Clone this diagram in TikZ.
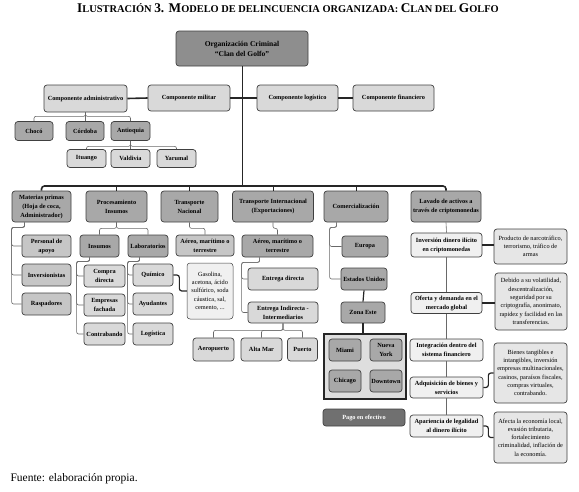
\documentclass[tikz,border=0pt]{standalone}
\usepackage{fontspec}
\setmainfont{Liberation Serif}
\usepackage{tikz}
\usetikzlibrary{positioning}
\definecolor{cgline}{RGB}{64,64,64}
\definecolor{cgwire}{RGB}{38,38,38}
\definecolor{cgthin}{RGB}{105,105,105}
\definecolor{cgtop}{RGB}{142,142,142}
\definecolor{cgmid}{RGB}{168,168,168}
\definecolor{cgsoft}{RGB}{198,198,198}
\definecolor{cglight}{RGB}{217,217,217}
\definecolor{cgpale}{RGB}{240,240,240}
\definecolor{cgnote}{RGB}{230,230,230}
\definecolor{cgframe}{RGB}{222,222,222}
\definecolor{cgcash}{RGB}{112,112,112}
\newcommand{\ttlcap}[1]{{\fontsize{13.3}{15}\selectfont #1}}
\tikzset{boxsize/.style 2 args={minimum width=#1pt, minimum height=#2pt}}

\begin{document}
\begin{tikzpicture}[
  x=1pt, y=-1pt,
  box/.style={draw=cgline, line width=0.7pt, rounded corners=3pt, align=center,
              inner sep=1pt, font=\fontsize{6.3}{9}\selectfont\bfseries},
  root/.style={box, fill=cgtop, font=\fontsize{7.5}{10}\selectfont\bfseries},
  comp/.style={box, fill=cglight},
  lvl/.style={box, fill=cgmid},
  soft/.style={box, fill=cgsoft},
  leaf/.style={box, fill=cglight},
  pale/.style={box, fill=cgpale},
  note/.style={box, fill=cgnote, font=\fontsize{6.3}{8.3}\selectfont},
  frame/.style={draw=cgwire, line width=1.3pt, fill=cgframe},
  cash/.style={box, fill=cgcash, text=white},
  stem/.style={draw=cgwire, line width=1pt},
  bus/.style={draw=cgwire, line width=1.6pt, rounded corners=3pt},
  twig/.style={draw=cgthin, line width=0.6pt, rounded corners=2pt},
  link/.style={draw=cgwire, line width=1.2pt, rounded corners=2.5pt}
]
\useasboundingbox (0,0) rectangle (579,491);

\node[anchor=base, font=\fontsize{10.4}{12}\selectfont\bfseries] (ttl) at (288,12.5)
  {\ttlcap{I}LUSTRACIÓN \ttlcap{3. M}ODELO DE DELINCUENCIA ORGANIZADA: \ttlcap{C}LAN DEL \ttlcap{G}OLFO};

\node[root, boxsize={132}{35}] (org) at (242,48.5) {Organización Criminal\\“Clan del Golfo”};

\node[comp, boxsize={83}{27}] (adm) at (85.5,98.5) {Componente administrativo};
\node[comp, boxsize={82}{26}] (mil) at (189,98) {Componente militar};
\node[comp, boxsize={81}{26}] (log) at (297.5,98) {Componente logístico};
\node[comp, boxsize={81}{26}] (fin) at (393.5,98) {Componente financiero};

\node[lvl, boxsize={38}{19}] (choco) at (34,131) {Chocó};
\node[lvl, boxsize={38}{19}] (cord) at (85,131) {Córdoba};
\node[lvl, boxsize={39}{19}] (ant) at (130.5,131) {Antioquia};
\node[leaf, boxsize={39}{18}] (itu) at (86.5,158.5) {Ituango};
\node[leaf, boxsize={39}{18}] (val) at (130.5,158.5) {Valdivia};
\node[leaf, boxsize={39}{18}] (yar) at (176.5,158.5) {Yarumal};

\coordinate (hub) at (242,186);
\node[lvl, boxsize={59}{31}] (mat) at (41.5,206.5) {Materias primas\\(Hoja de coca,\\Administrador)};
\node[lvl, boxsize={61}{31}] (proc) at (116.5,206.5) {Procesamiento\\Insumos};
\node[lvl, boxsize={57}{31}] (tn) at (189.5,206.5) {Transporte\\Nacional};
\node[lvl, boxsize={81}{31}] (ti) at (273,206.5) {Transporte Internacional\\(Exportaciones)};
\node[lvl, boxsize={64}{31}] (com) at (356,206.5) {Comercialización};
\node[lvl, boxsize={70}{31}] (lav) at (446,206.5) {Lavado de activos a\\través de criptomonedas};

\node[soft, boxsize={49}{22}] (per) at (46.5,246) {Personal de\\apoyo};
\node[soft, boxsize={49}{22}] (inv) at (46.5,275) {Inversionistas};
\node[soft, boxsize={49}{22}] (rasp) at (46.5,304) {Raspadores};

\node[lvl, boxsize={39}{22}] (ins) at (99.5,246) {Insumos};
\node[lvl, boxsize={40}{22}] (lab) at (148,246) {Laboratorios};
\node[leaf, boxsize={41}{22}] (compra) at (104.5,276) {Compra\\directa};
\node[leaf, boxsize={41}{22}] (emp) at (104.5,305) {Empresas\\fachada};
\node[leaf, boxsize={41}{22}] (contra) at (104.5,334) {Contrabando};
\node[leaf, boxsize={40}{22}] (quim) at (153,275) {Químico};
\node[leaf, boxsize={40}{22}] (ayu) at (153,304) {Ayudantes};
\node[leaf, boxsize={40}{22}] (logi) at (153,334) {Logística};
\node[note, boxsize={46}{56}, fill=cgpale, line width=0.5pt] (gas) at (210,291)
  {Gasolina,\\acetona, ácido\\sulfúrico, soda\\cáustica, sal,\\cemento, ...};

\node[soft, boxsize={58}{21}] (tnaer) at (205,245.5) {Aéreo, marítimo o\\terrestre};
\node[lvl, boxsize={71}{22}] (tiaer) at (277.5,246) {Aéreo, marítimo o\\terrestre};
\node[leaf, boxsize={70}{22}] (edir) at (283,279) {Entrega directa};
\node[leaf, boxsize={70}{21}] (eind) at (283,312.5) {Entrega Indirecta -\\Intermediarios};
\node[leaf, boxsize={41}{23}] (aero) at (213.5,349.5) {Aeropuerto};
\node[leaf, boxsize={41}{23}] (alta) at (261.5,349.5) {Alta Mar};
\node[leaf, boxsize={30}{23}] (pto) at (302.5,349.5) {Puerto};

\node[lvl, boxsize={46}{21}] (eur) at (365,246.5) {Europa};
\node[lvl, boxsize={46}{22}] (eeuu) at (364,279) {Estados Unidos};
\node[lvl, boxsize={44}{21}] (zona) at (363,312.5) {Zona Este};
\node[frame, minimum width=82pt, minimum height=65pt] (cont) at (365,366.5) {};
\node[lvl, boxsize={32}{22}] (mia) at (345,350) {Miami};
\node[lvl, boxsize={32}{22}] (ny) at (386,350) {Nueva\\York};
\node[lvl, boxsize={32}{22}] (chi) at (345,381) {Chicago};
\node[lvl, boxsize={32}{22}] (dt) at (386,381) {Downtown};
\node[cash, boxsize={82}{17}] (pago) at (364,417.5) {Pago en efectivo};

\node[pale, boxsize={71}{24}] (ilic) at (446.5,245) {Inversión dinero ilícito\\en criptomonedas};
\node[pale, boxsize={71}{21}] (ofe) at (446.5,303) {Oferta y demanda en el\\mercado global};
\node[pale, boxsize={73}{22}] (intg) at (446.5,350) {Integración dentro del\\sistema financiero};
\node[pale, boxsize={73}{21}] (adq) at (446.5,387.5) {Adquisición de bienes y\\servicios};
\node[pale, boxsize={73}{22}] (apar) at (446.5,426) {Apariencia de legalidad\\al dinero ilícito};

\node[note, boxsize={73}{35}] (prod) at (530.5,246.5) {Producto de narcotráfico,\\terrorismo, tráfico de\\armas};
\node[note, boxsize={72}{57}] (deb) at (531,301.5) {Debido a su volatilidad,\\descentralización,\\seguridad por su\\criptografía, anonimato,\\rapidez y facilidad en las\\transferencias.};
\node[note, boxsize={73}{60}] (bien) at (530.5,373) {Bienes tangibles e\\intangibles, inversión\\empresas multinacionales,\\casinos, paraísos fiscales,\\compras virtuales,\\contrabando.};
\node[note, boxsize={73}{51}] (afec) at (530.5,437.5) {Afecta la economía local,\\evasión tributaria,\\fortalecimiento\\criminalidad, inflación de\\la economía.};

\node[anchor=base west, font=\fontsize{11.5}{13}\selectfont] (src) at (7,481) {Fuente: elaboración propia.};

\draw[stem] (org.south) -- (hub);
\draw[bus] (adm.east) -- (mil.west);
\draw[bus] (mil.east) -- (log.west);
\draw[bus] (log.east) -- (fin.west);
\draw[bus] (mat.north) |- (hub) -| (lav.north);
\draw[stem] (proc.north) -- (proc.north |- hub);
\draw[stem] (tn.north) -- (tn.north |- hub);
\draw[stem] (ti.north) -- (ti.north |- hub);
\draw[stem] (com.north) -- (com.north |- hub);

\draw[twig] (adm.south) -- ++(0,4) -| (choco.north);
\draw[twig] (adm.south) -- ++(0,4) -| (ant.north);
\draw[twig] (adm.south) -- (cord.north -| adm.south);
\draw[twig] (ant.south) -- ++(0,5.5) -| (itu.north);
\draw[twig] (ant.south) -- (val.north);
\draw[twig] (ant.south) -- ++(0,5.5) -| (yar.north);

\draw[twig] ([xshift=13pt]mat.south west) -- ++(0,5) -- ++(-13,0) |- (per.west);
\draw[twig] ([xshift=13pt]mat.south west) -- ++(0,5) -- ++(-13,0) |- (inv.west);
\draw[twig] ([xshift=13pt]mat.south west) -- ++(0,5) -- ++(-13,0) |- (rasp.west);

\draw[twig] (proc.south) -- ++(0,6) -| (ins.north);
\draw[twig] (proc.south) -- ++(0,6) -| (lab.north);
\draw[twig] ([xshift=10pt]ins.south west) -- ++(0,4) -- ++(-13,0) |- (compra.west);
\draw[twig] ([xshift=10pt]ins.south west) -- ++(0,4) -- ++(-13,0) |- (emp.west);
\draw[twig] ([xshift=10pt]ins.south west) -- ++(0,4) -- ++(-13,0) |- (contra.west);
\draw[twig] ([xshift=12pt]lab.south west) -- ++(0,4) -- ++(-12,0) |- (quim.west);
\draw[twig] ([xshift=12pt]lab.south west) -- ++(0,4) -- ++(-12,0) |- (ayu.west);
\draw[twig] ([xshift=12pt]lab.south west) -- ++(0,4) -- ++(-12,0) |- (logi.west);
\draw[link] (quim.east) -- ++(6,0) |- (gas.west);

\draw[twig] (tn.south) -- ++(0,6) -| (tnaer.north);
\draw[twig] (ti.south) -- ++(0,6) -| (tiaer.north);
\draw[twig] ([xshift=18pt]tiaer.south west) -- ++(0,5) -- ++(-18,0) |- (edir.west);
\draw[twig] ([xshift=18pt]tiaer.south west) -- ++(0,5) -- ++(-18,0) |- (eind.west);
\draw[twig] (eind.south) -- ++(0,7) -| (aero.north);
\draw[twig] (eind.south) -- ++(0,7) -| (alta.north);
\draw[twig] (eind.south) -- ++(0,7) -| (pto.north);

\draw[twig] ([xshift=13pt]com.south west) -- ++(0,5) -- ++(-7,0) |- (eur.west);
\draw[twig] ([xshift=13pt]com.south west) -- ++(0,5) -- ++(-7,0) |- (eeuu.west);
\draw[link] (eeuu.south) -- (zona.north);
\draw[link] (zona.south) -- (zona.south |- cont.north);
\draw[link] (cont.south) -- (cont.south -| pago.north);

\draw[twig] (lav.south) -- (ilic.north);
\draw[twig] (ilic.south) -- (ofe.north);
\draw[twig] (ofe.south) -- (intg.north);
\draw[twig] (intg.south) -- (adq.north);
\draw[twig] (adq.south) -- (apar.north);
\draw[link] (ilic.east) -- (ilic.east -| prod.west);
\draw[link] (ofe.east) -- (ofe.east -| deb.west);
\draw[link] (adq.east) -- ++(5,0) |- (bien.west);
\draw[link] (apar.east) -- ++(5,0) |- (afec.west);
\end{tikzpicture}
\end{document}
